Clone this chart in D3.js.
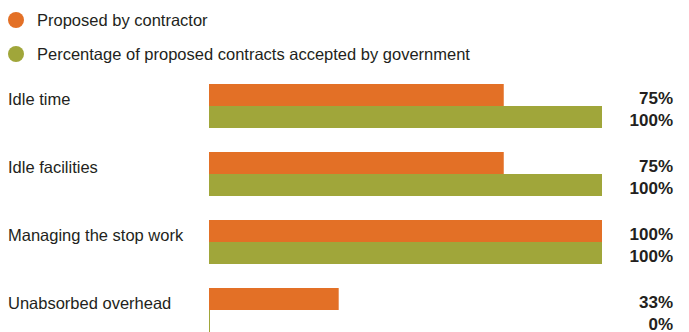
<!DOCTYPE html>
<html>
<head>
<meta charset="utf-8">
<script src="https://cdn.jsdelivr.net/npm/d3@7"></script>
<style>
  html, body { margin: 0; padding: 0; background: #fff; }
  svg { display: block; }
  text { font-family: "Liberation Sans", Arial, sans-serif; fill: #231f20; }
</style>
</head>
<body>
<svg id="chart" width="689" height="332"></svg>
<script>
const categories = ["Idle time", "Idle facilities", "Managing the stop work", "Unabsorbed overhead"];
const seriesNames = ["Proposed by contractor", "Percentage of proposed contracts accepted by government"];
const proposed = [75, 75, 100, 33];
const accepted = [100, 100, 100, 0];
const colors = ["#e37026", "#a0a63a"];

const svg = d3.select("#chart");

// Legend
const legend = svg.append("g");
seriesNames.forEach((name, i) => {
  const y = 20 + i * 34;
  legend.append("circle").attr("cx", 16).attr("cy", y).attr("r", 8).attr("fill", colors[i]);
  legend.append("text").attr("x", 37).attr("y", y + 6)
    .attr("font-size", 16.5).text(name);
});

// Scales
const x = d3.scaleLinear().domain([0, 100]).range([209, 602]);
const y0 = d3.scaleBand().domain(categories).range([84, 356]).paddingInner(0).paddingOuter(0);
const y1 = d3.scaleBand().domain([0, 1]).range([0, 44]);

const rows = categories.map((c, i) => ({ cat: c, vals: [proposed[i], accepted[i]] }));

const g = svg.selectAll("g.row").data(rows).enter().append("g")
  .attr("class", "row")
  .attr("transform", d => `translate(0,${y0(d.cat)})`);

g.selectAll("rect").data(d => d.vals).enter().append("rect")
  .attr("x", x(0))
  .attr("y", (v, j) => y1(j))
  .attr("width", v => Math.max(1, x(v) - x(0)))
  .attr("height", y1.bandwidth())
  .attr("fill", (v, j) => colors[j]);

g.append("text")
  .attr("x", 8).attr("y", 21)
  .attr("font-size", 16.5)
  .text(d => d.cat);

g.selectAll("text.val").data(d => d.vals).enter().append("text")
  .attr("class", "val")
  .attr("x", 673)
  .attr("y", (v, j) => y1(j) + 20)
  .attr("text-anchor", "end")
  .attr("font-size", 17)
  .attr("font-weight", "bold")
  .text(v => v + "%");
</script>
</body>
</html>
